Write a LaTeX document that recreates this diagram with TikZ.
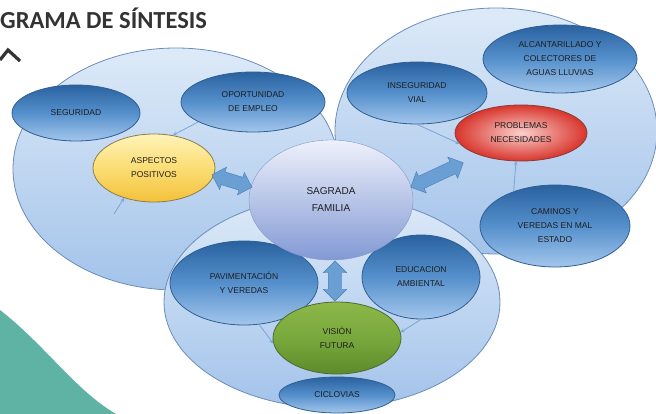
\documentclass[tikz,border=0pt]{standalone}
\usepackage{fontspec}
\setmainfont{Liberation Sans}
\newfontfamily\titlefont{Carlito}
\usetikzlibrary{shapes.geometric,shapes.arrows}

\definecolor{zonetop}{HTML}{DDEAF8}
\definecolor{zonebot}{HTML}{A3C3EA}
\definecolor{zoneline}{HTML}{6A8DBB}
\definecolor{tematop}{HTML}{2A62A0}
\definecolor{temamid}{HTML}{5590CC}
\definecolor{temabot}{HTML}{A3C6EC}
\definecolor{temaline}{HTML}{2F5E92}
\definecolor{textdark}{HTML}{1E1E1E}
\definecolor{titlec}{HTML}{333333}
\definecolor{tealc}{HTML}{5FB3A4}
\definecolor{flechafill}{HTML}{6A9FD4}
\definecolor{flechaline}{HTML}{4A7DB5}
\definecolor{connc}{HTML}{7AA6D8}
\definecolor{sagtop}{HTML}{EEF1FB}
\definecolor{sagbot}{HTML}{8299D4}
\definecolor{sagline}{HTML}{8597C8}
\definecolor{amatop}{HTML}{FFF3B8}
\definecolor{amamid}{HTML}{FBDD74}
\definecolor{amabot}{HTML}{F3C13A}
\definecolor{amaline}{HTML}{8C7D4A}
\definecolor{verdetop}{HTML}{8DB84A}
\definecolor{verdemid}{HTML}{78A83C}
\definecolor{verdebot}{HTML}{5D8B2C}
\definecolor{verdeline}{HTML}{4D6B2C}
\definecolor{rojoin}{HTML}{FAD0CC}
\definecolor{rojoout}{HTML}{D8352C}
\definecolor{rojoline}{HTML}{8C3A3A}

\begin{document}
\begin{tikzpicture}[x=1pt, y=1pt,
    zona/.style={draw=zoneline, line width=0.8pt, top color=zonetop, bottom color=zonebot},
    tema/.style={ellipse, draw=temaline, line width=0.8pt, inner sep=0pt,
        top color=tematop, bottom color=temabot, middle color=temamid,
        text=textdark, align=center, font=\fontsize{8.5}{14}\selectfont},
    flecha/.style={double arrow, draw=flechaline, fill=flechafill,
        inner xsep=0pt, inner ysep=6.5pt, double arrow head extend=5pt},
    conn/.style={draw=connc, line width=0.8pt, -stealth}]
    \useasboundingbox (0,0) rectangle (656,-414);

    % fondo y titulo
    \fill[tealc] (0,-310) .. controls (45,-345) and (75,-390) .. (116,-414) -- (0,-414) -- cycle;
    \node[anchor=base west, inner sep=0pt, text=titlec,
        font=\titlefont\bfseries\fontsize{24.5}{24.5}\selectfont] (titulo) at (0,-29) {GRAMA DE SÍNTESIS};
    \draw[line width=3.2pt, titlec] (0,-60) -- (8,-50) -- (20,-61);

    % zonas grandes
    \path[zona] (176,-169) ellipse [x radius=163, y radius=121];
    \path[zona] (496,-131) ellipse [x radius=161, y radius=123];
    \path[zona] (332,-302) ellipse [x radius=168, y radius=106];

    % aspectos positivos
    \node[tema, minimum width=128pt, minimum height=56pt] (seguridad) at (76,-113) {SEGURIDAD};
    \node[tema, minimum width=144pt, minimum height=60pt] (oportunidad) at (253,-102) {OPORTUNIDAD\\DE EMPLEO};
    \node[tema, minimum width=122pt, minimum height=68pt, draw=amaline,
        top color=amatop, bottom color=amabot, middle color=amamid]
        (aspectos) at (154,-168) {ASPECTOS\\POSITIVOS};

    % problemas
    \node[tema, minimum width=140pt, minimum height=62pt] (inseguridad) at (417,-93) {INSEGURIDAD\\VIAL};
    \node[tema, minimum width=154pt, minimum height=68pt] (alcantarillado) at (560,-59) {ALCANTARILLADO Y\\COLECTORES DE\\AGUAS LLUVIAS};
    \node[tema, minimum width=150pt, minimum height=82pt] (caminos) at (555,-226) {CAMINOS Y\\VEREDAS EN MAL\\ESTADO};
    \node[tema, minimum width=132pt, minimum height=56pt, draw=rojoline,
        inner color=rojoin, outer color=rojoout]
        (problemas) at (521,-133) {PROBLEMAS\\NECESIDADES};

    % vision futura
    \node[tema, minimum width=148pt, minimum height=84pt] (pavimentacion) at (244,-283) {PAVIMENTACIÓN\\Y VEREDAS};
    \node[tema, minimum width=118pt, minimum height=84pt] (educacion) at (421,-277) {EDUCACION\\AMBIENTAL};
    \node[tema, minimum width=116pt, minimum height=36pt] (ciclovias) at (337,-395) {CICLOVIAS};
    \node[tema, minimum width=128pt, minimum height=72pt, draw=verdeline,
        top color=verdetop, bottom color=verdebot, middle color=verdemid]
        (vision) at (337,-338) {VISIÓN\\FUTURA};

    % centro
    \node[ellipse, minimum width=164pt, minimum height=120pt, draw=sagline,
        top color=sagtop, bottom color=sagbot, text=textdark, align=center,
        font=\fontsize{10}{17}\selectfont] (sagrada) at (331,-200) {SAGRADA\\FAMILIA};

    % flechas dobles
    \node[flecha, minimum height=42pt, rotate=-17] (f1) at (232,-181) {};
    \node[flecha, minimum height=58pt, rotate=25] (f2) at (437,-175) {};
    \node[flecha, minimum height=40pt, rotate=90] (f3) at (335,-281) {};

    % conectores
    \coordinate (asplow) at (114,-214);
    \draw[conn] (oportunidad.200) -- (aspectos.60);
    \draw[conn] (asplow) -- (aspectos.225);
    \draw[conn] (inseguridad.south) -- (problemas.190);
    \draw[conn] (caminos.140) -- (problemas.260);
    \draw[conn] (pavimentacion.290) -- (vision.185);
    \draw[conn] (educacion.south) -- (vision.5);
\end{tikzpicture}
\end{document}
